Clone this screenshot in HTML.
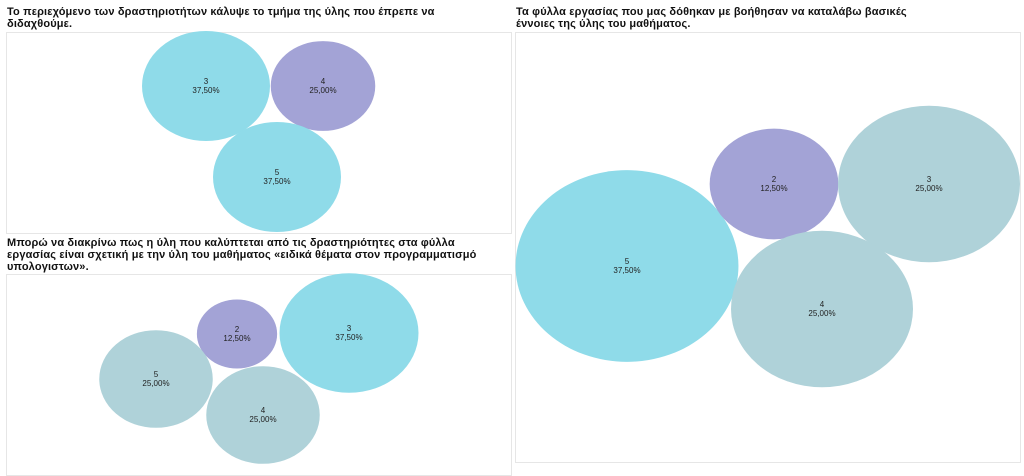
<!DOCTYPE html>
<html><head><meta charset="utf-8"><style>
body{margin:0;width:1024px;height:466px;background:#fff;overflow:hidden;font-family:"Liberation Sans",sans-serif;position:relative}
.t{position:absolute;font-weight:bold;font-size:11px;line-height:12px;color:#111;letter-spacing:0.15px}
.box{position:absolute;border:1px solid #e6e6e6;background:#fff}
svg{position:absolute;left:0;top:0}
</style></head><body>
<div class="t" style="left:7px;top:6px;width:460px">Το περιεχόμενο των δραστηριοτήτων κάλυψε το τμήμα της ύλης που έπρεπε να διδαχθούμε.</div>
<div class="box" style="left:6px;top:32px;width:504px;height:200px"></div>
<div class="t" style="left:7px;top:237px;width:500px">Μπορώ να διακρίνω πως η ύλη που καλύπτεται από τις δραστηριότητες στα φύλλα εργασίας είναι σχετική με την ύλη του μαθήματος «ειδικά θέματα στον προγραμματισμό υπολογιστων».</div>
<div class="box" style="left:6px;top:274px;width:504px;height:200px"></div>
<div class="t" style="left:516px;top:6px;width:420px">Τα φύλλα εργασίας που μας δόθηκαν με βοήθησαν να καταλάβω βασικές έννοιες της ύλης του μαθήματος.</div>
<div class="box" style="left:515px;top:32px;width:504px;height:429px"></div>
<svg id="s" width="1024" height="466"></svg>
<script>
const labels1=["3","4","5"];
const values1=[37.5,25,37.5];
const labels2=["2","3","5","4"];
const values2=[12.5,37.5,25,25];
const labels3=["5","2","3","4"];
const values3=[37.5,12.5,25,25];
const C={cyan:"#8fdbe9",purple:"#a3a3d6",teal:"#afd2d9"};
const charts=[
 {id:"chart1",labels:labels1,values:values1,k:10.45,cx:[206,323,277],cy:[86,86,177],col:["cyan","purple","cyan"]},
 {id:"chart2",labels:labels2,values:values2,k:11.35,cx:[237,349,156,263],cy:[334,333,379,415],col:["purple","cyan","teal","teal"]},
 {id:"chart3",labels:labels3,values:values3,k:18.2,cx:[627,774,929,822],cy:[266,184,184,309],col:["cyan","purple","teal","teal"]}
];
const s=document.getElementById('s');const NS="http://www.w3.org/2000/svg";
function rScale(v,k){return k*Math.sqrt(v);}
charts.forEach(c=>{
 c.values.forEach((v,i)=>{
  const rx=rScale(v,c.k),ry=rx*0.86;
  const e=document.createElementNS(NS,'ellipse');
  
  
  e.setAttribute('cx',c.cx[i]);e.setAttribute('cy',c.cy[i]);
  e.setAttribute('rx',rx);e.setAttribute('ry',ry);e.setAttribute('fill',C[c.col[i]]);
  s.appendChild(e);
  const t=document.createElementNS(NS,'text');
  
  
  t.setAttribute('x',c.cx[i]);t.setAttribute('y',c.cy[i]-2);
  t.setAttribute('text-anchor','middle');t.setAttribute('font-size','8');
  t.setAttribute('font-family','Liberation Sans, sans-serif');t.setAttribute('fill','#222');
  const a=document.createElementNS(NS,'tspan');a.textContent=c.labels[i];a.setAttribute('x',c.cx[i]);
  const b=document.createElementNS(NS,'tspan');b.textContent=v.toFixed(2).replace('.',',')+'%';b.setAttribute('x',c.cx[i]);b.setAttribute('dy','9');
  t.appendChild(a);t.appendChild(b);s.appendChild(t);
 });
});
</script>
</body></html>
